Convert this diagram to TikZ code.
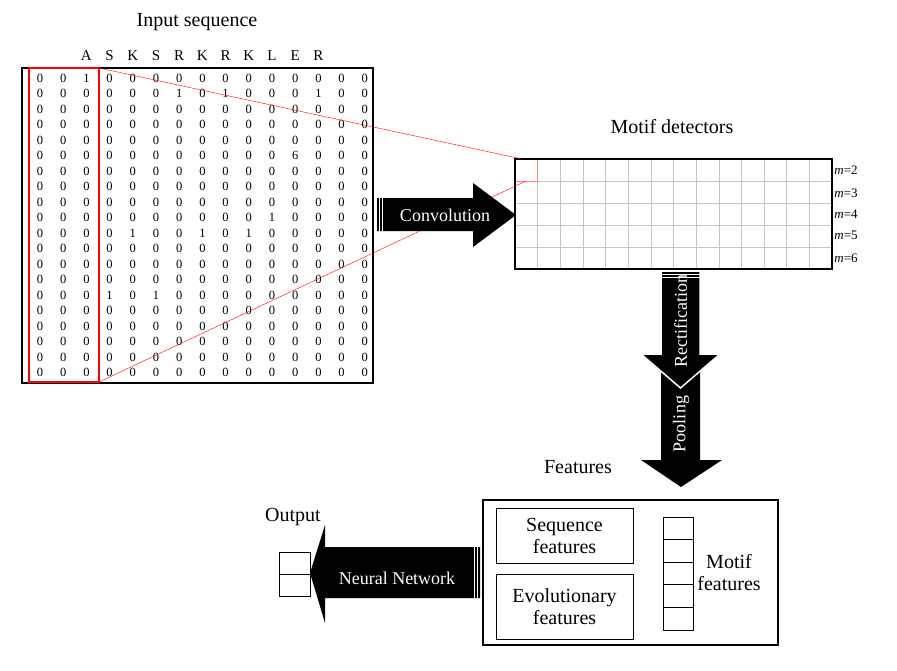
\documentclass[tikz,border=0pt]{standalone}
\usepackage{fontspec}
\setmainfont{Liberation Serif}
\begin{document}
\begin{tikzpicture}[x=1pt,y=-1pt,
	title/.style={font=\fontsize{20}{22}\selectfont},
	digit/.style={font=\fontsize{12.5}{13}\selectfont, inner sep=0pt},
	arrowtext/.style={text=white, font=\fontsize{18}{20}\selectfont},
	stripe/.style={white, line width=0.7pt},
	window/.style={red, line width=1.3pt},
	featbox/.style={draw, line width=0.8pt, align=center, font=\fontsize{20}{22}\selectfont}]
\useasboundingbox (0,0) rectangle (897,670);

	% draw input sequence
	\node[title] (inseq) at (197,22) {Input sequence};
	\foreach \c [count=\i from 3] in {A,S,K,S,R,K,R,K,L,E,R}
	{
		\node[font=\fontsize{15}{16}\selectfont] (aa_\i) at ({40+(\i-1)*23.2},56) {\c};
	}
	\foreach \row [count=\j] in {
		{0,0,1,0,0,0,0,0,0,0,0,0,0,0,0},
		{0,0,0,0,0,0,1,0,1,0,0,0,1,0,0},
		{0,0,0,0,0,0,0,0,0,0,0,0,0,0,0},
		{0,0,0,0,0,0,0,0,0,0,0,0,0,0,0},
		{0,0,0,0,0,0,0,0,0,0,0,0,0,0,0},
		{0,0,0,0,0,0,0,0,0,0,0,6,0,0,0},
		{0,0,0,0,0,0,0,0,0,0,0,0,0,0,0},
		{0,0,0,0,0,0,0,0,0,0,0,0,0,0,0},
		{0,0,0,0,0,0,0,0,0,0,0,0,0,0,0},
		{0,0,0,0,0,0,0,0,0,0,1,0,0,0,0},
		{0,0,0,0,1,0,0,1,0,1,0,0,0,0,0},
		{0,0,0,0,0,0,0,0,0,0,0,0,0,0,0},
		{0,0,0,0,0,0,0,0,0,0,0,0,0,0,0},
		{0,0,0,0,0,0,0,0,0,0,0,0,0,0,0},
		{0,0,0,1,0,1,0,0,0,0,0,0,0,0,0},
		{0,0,0,0,0,0,0,0,0,0,0,0,0,0,0},
		{0,0,0,0,0,0,0,0,0,0,0,0,0,0,0},
		{0,0,0,0,0,0,0,0,0,0,0,0,0,0,0},
		{0,0,0,0,0,0,0,0,0,0,0,0,0,0,0},
		{0,0,0,0,0,0,0,0,0,0,0,0,0,0,0}}
	{
		\foreach \v [count=\i] in \row
		{
			\node[digit] (x_\j_\i) at ({40+(\i-1)*23.2},{78+(\j-1)*15.5}) {\v};
		}
	}
	\draw[line width=1.3pt] (22,68) rectangle (373,383);
	\draw[window] (29,68) rectangle (99,382);
	\coordinate (win_top) at (99,68);
	\coordinate (win_bot) at (99,382);

	% draw motif detectors
	\node[title] (motdet) at (672,127) {Motif detectors};
	\foreach \s in {1,...,13}
	{
		\draw[gray!45] ({515+\s*22.64},159) -- ({515+\s*22.64},269);
	}
	\foreach \s in {1,...,4}
	{
		\draw[gray!45] (515,{159+\s*22}) -- (832,{159+\s*22});
	}
	\draw[red!50] (515,159) rectangle (537.6,181);
	\draw[line width=1.3pt] (515,159) rectangle (832,269);
	\coordinate (cell_top) at (522,159);
	\coordinate (cell_bot) at (526,181);
	\foreach \m [count=\s] in {170,193,214,235,258}
	{
		\pgfmathtruncatemacro{\n}{\s+1}
		\node[font=\fontsize{13}{14}\selectfont] (m_\s) at (846,\m) {\textit{m}=\n};
	}

	% draw window lines
	\draw[red] (win_top) -- (cell_top);
	\draw[red] (win_bot) -- (cell_bot);

	% draw block arrows
	\fill (377,198) -- (473,198) -- (473,183) -- (516,215) -- (473,247)
		-- (473,231) -- (377,231) -- cycle;
	\draw[stripe] (379.5,198) -- (379.5,231);
	\draw[stripe] (382,198) -- (382,231);
	\node[arrowtext] (conv) at (445,215) {Convolution};

	\fill (661,365) -- (700,365) -- (700,460) -- (722,460) -- (681,487)
		-- (641,460) -- (661,460) -- cycle;
	\filldraw[draw=white, line width=1.5pt] (661,271) -- (700,271) -- (700,354) -- (720,354)
		-- (680.5,388) -- (641,354) -- (661,354) -- cycle;
	\draw[stripe] (661,274.5) -- (700,274.5);
	\draw[stripe] (661,277) -- (700,277);
	\node[arrowtext, rotate=90] (rect) at (680.5,321) {Rectification};
	\node[arrowtext, rotate=90] (pool) at (681,424) {Pooling};

	\fill (480,547) -- (325,547) -- (325,525) -- (310,573) -- (325,623)
		-- (325,598) -- (480,598) -- cycle;
	\draw[stripe] (474.5,547) -- (474.5,598);
	\draw[stripe] (477,547) -- (477,598);
	\node[arrowtext] (nn) at (397,578) {Neural Network};

	% draw features
	\node[title] (feat) at (578,467) {Features};
	\draw[line width=1.2pt] (483,500) rectangle (778,645);
	\node[featbox, minimum width=137pt, minimum height=55pt] (seqf) at (564.5,535.5) {Sequence\\features};
	\node[featbox, minimum width=137pt, minimum height=65pt] (evof) at (564.5,606.5) {Evolutionary\\features};
	\foreach \s in {0,...,4}
	{
		\draw[line width=0.8pt] (663,{517+\s*22.6}) rectangle (693,{517+(\s+1)*22.6});
	}
	\node[title, align=center] (motf) at (729,573) {Motif\\features};

	% draw output
	\node[title] (out) at (293,517) {Output};
	\draw[line width=0.8pt] (279,552) rectangle (310,574);
	\draw[line width=0.8pt] (279,574) rectangle (310,596);

\end{tikzpicture}
\end{document}
